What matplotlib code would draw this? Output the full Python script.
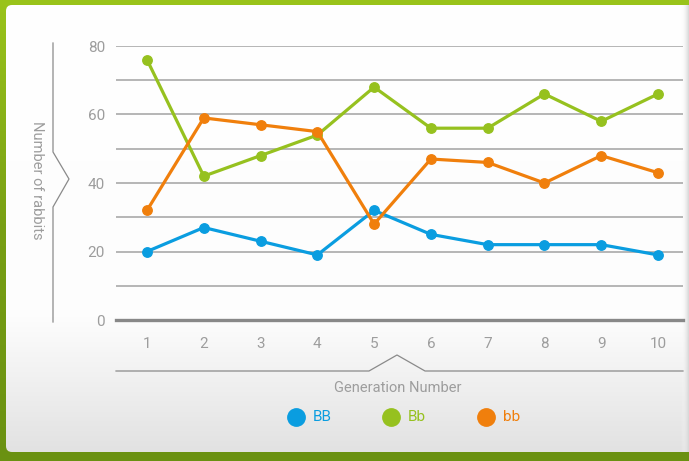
import numpy as np
import matplotlib
matplotlib.use("Agg")
import matplotlib.pyplot as plt
from matplotlib.patches import FancyBboxPatch
from matplotlib.lines import Line2D
from matplotlib.colors import LinearSegmentedColormap

# data
generations = [1, 2, 3, 4, 5, 6, 7, 8, 9, 10]
bb_big = [20, 27, 23, 19, 32, 25, 22, 22, 22, 19]   # BB
bb_mix = [76, 42, 48, 54, 68, 56, 56, 66, 58, 66]   # Bb
bb_small = [32, 59, 57, 55, 28, 47, 46, 40, 48, 43]  # bb
names = ["BB", "Bb", "bb"]
colors = ["#0a9de0", "#96c11f", "#f07f0c"]

plt.rcParams['font.family'] = ['Roboto', 'DejaVu Sans']
W, H = 689, 461
fig = plt.figure(figsize=(W / 100, H / 100), dpi=100)

def fx(x):
    return x / W

def fy(y):
    return 1 - y / H

# green frame background
bg = fig.add_axes([0, 0, 1, 1], zorder=-10)
bg.set_xlim(0, W)
bg.set_ylim(H, 0)
bg.axis('off')
green = LinearSegmentedColormap.from_list('g', ['#9ac41b', '#789f14', '#6a9111'])
grad = np.linspace(0, 1, 256).reshape(-1, 1)
bg.imshow(grad, cmap=green, extent=[0, W, H, 0], aspect='auto')

# white panel with light gray bottom gradient
panel = FancyBboxPatch((6, 5), W, 447, boxstyle="round,pad=0,rounding_size=6",
                       transform=bg.transData, facecolor='none', edgecolor='none')
bg.add_patch(panel)
pg = LinearSegmentedColormap.from_list('p', [(0, '#ffffff'), (0.7, '#fdfdfd'), (1, '#e2e2e2')])
im = bg.imshow(grad, cmap=pg, extent=[6, W, 452, 5], aspect='auto')
im.set_clip_path(panel)
sh = LinearSegmentedColormap.from_list('s', ['#ffffff00', '#d6d6d6'])
im2 = bg.imshow(np.linspace(0, 1, 64).reshape(1, -1), cmap=sh, extent=[681, W, 452, 5], aspect='auto')
im2.set_clip_path(panel)

# main chart
ax = fig.add_axes([fx(116), fy(320), fx(683) - fx(116), fy(46) - fy(320)])
ax.patch.set_alpha(0)
series = [bb_big, bb_mix, bb_small]
for vals, c in zip(series, colors):
    ax.plot(generations, vals, color=c, lw=2.3, marker='o', ms=6.8, zorder=3)

ax.set_xlim(0.454, 10.44)
ax.set_ylim(0, 80)
ax.set_yticks([0, 20, 40, 60, 80])
ax.set_yticks([10, 30, 50, 70], minor=True)
ax.set_xticks(generations)
ax.grid(axis='y', which='both', color='#a9a9a9', lw=1.2)
for s in ['top', 'left', 'right']:
    ax.spines[s].set_visible(False)
ax.spines['bottom'].set_color('#888888')
ax.spines['bottom'].set_linewidth(2.4)
ax.tick_params(which='both', length=0, labelsize=11, labelcolor='#9d9d9d')
ax.tick_params(axis='y', pad=8)
ax.tick_params(axis='x', pad=12)

# y bracket and label
gray = '#8a8a8a'
fig.add_artist(Line2D([fx(53), fx(53), fx(69), fx(53), fx(53)],
                      [fy(43), fy(152), fy(179), fy(207), fy(322)], color=gray, lw=0.9))
fig.text(fx(37), fy(180), 'Number of rabbits', rotation=-90, ha='center', va='center',
         fontsize=10.5, color='#9d9d9d')

# x bracket and label
fig.add_artist(Line2D([fx(116), fx(369), fx(397), fx(425), fx(683)],
                      [fy(371), fy(371), fy(355), fy(371), fy(371)], color=gray, lw=0.9))
fig.text(fx(398), fy(388), 'Generation Number', ha='center', va='center',
         fontsize=10.5, color='#9d9d9d')

# legend
for i, (name, c) in enumerate(zip(names, colors)):
    cx = 296 + i * 95
    fig.add_artist(Line2D([fx(cx)], [fy(417)], marker='o', ms=12.5, color=c, lw=0))
    fig.text(fx(cx + 17), fy(417), name, ha='left', va='center', fontsize=11, color=c)

fig.savefig('out.png', dpi=100)
